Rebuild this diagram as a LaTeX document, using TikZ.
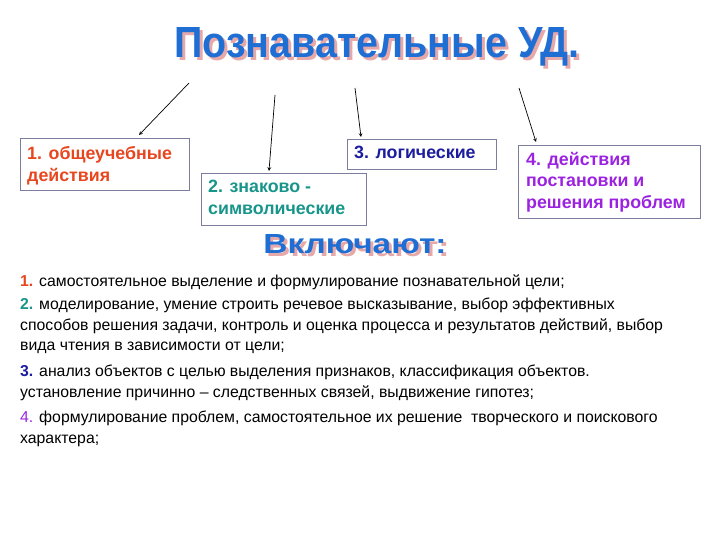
\documentclass[tikz,border=0pt]{standalone}
\usepackage{fontspec}
\setmainfont{Liberation Sans}
\usepackage{graphicx}
\definecolor{cOne}{HTML}{E8461E}
\definecolor{cTwo}{HTML}{17958A}
\definecolor{cThree}{HTML}{1C1C9E}
\definecolor{cFour}{HTML}{9B22E0}
\definecolor{boxline}{HTML}{7C7C9C}
\definecolor{wablue}{HTML}{1F6ED4}
\definecolor{washadow}{HTML}{E6A8A8}
\newcommand{\wordart}[3]{\rlap{\raisebox{-3pt}{\hspace{3pt}\textcolor{washadow}{\resizebox{#1}{#2}{\bfseries #3}}}}\textcolor{wablue}{\resizebox{#1}{#2}{\bfseries #3}}}
\begin{document}
\begin{tikzpicture}[x=1pt,y=-1pt,
  frame/.style={draw=boxline,line width=0.9pt},
  boxtext/.style={anchor=north west,inner sep=0pt,align=left,font=\fontsize{17.8}{22}\selectfont\bfseries},
  conn/.style={-stealth,line width=0.7pt,black},
  bodytext/.style={anchor=north west,inner sep=0pt,align=left,font=\fontsize{15.8}{20.5}\selectfont}]
\useasboundingbox (0,0) rectangle (720,540);
% title
\node[inner sep=0pt] (title) at (377,48) {\wordart{405pt}{30pt}{Познавательные УД.}};
% boxes
\draw[frame] (20,138) rectangle (189,190);
\node[boxtext,text=cOne] (b1) at (27,146) {1. общеучебные\\действия};
\coordinate (b1top) at (139,135);
\draw[frame] (201,173) rectangle (366,225);
\node[boxtext,text=cTwo] (b2) at (208,180) {2. знаково -\\символические};
\coordinate (b2top) at (269,171);
\draw[frame] (347,139) rectangle (496,169);
\node[boxtext,text=cThree] (b3) at (354,146) {3. логические};
\coordinate (b3top) at (361,137);
\draw[frame] (518,145) rectangle (700,218);
\node[boxtext,text=cFour,font=\fontsize{17.8}{21.5}\selectfont\bfseries] (b4) at (526,152) {4. действия\\постановки и\\решения проблем};
\coordinate (b4top) at (536,142);
% arrows
\coordinate (s1) at (189,83);
\coordinate (s2) at (275,95);
\coordinate (s3) at (355,88);
\coordinate (s4) at (519,88);
\draw[conn] (s1) -- (b1top);
\draw[conn] (s2) -- (b2top);
\draw[conn] (s3) -- (b3top);
\draw[conn] (s4) -- (b4top);
% includes
\node[inner sep=0pt] (incl) at (355,246) {\wordart{183pt}{19pt}{Включают:}};
% body
\node[bodytext] (p1) at (20,275) {{\color{cOne}\bfseries 1.} самостоятельное выделение и формулирование познавательной цели;};
\node[bodytext] (p2) at (20,298) {{\color{cTwo}\bfseries 2.} моделирование, умение строить речевое высказывание, выбор эффективных\\способов решения задачи, контроль и оценка процесса и результатов действий, выбор\\вида чтения в зависимости от цели;};
\node[bodytext] (p3) at (20,365) {{\color{cThree}\bfseries 3.} анализ объектов с целью выделения признаков, классификация объектов.\\установление причинно – следственных связей, выдвижение гипотез;};
\node[bodytext] (p4) at (20,411) {{\color{cFour}4.} формулирование проблем, самостоятельное их решение\ \ творческого и поискового\\характера;};
\end{tikzpicture}
\end{document}
